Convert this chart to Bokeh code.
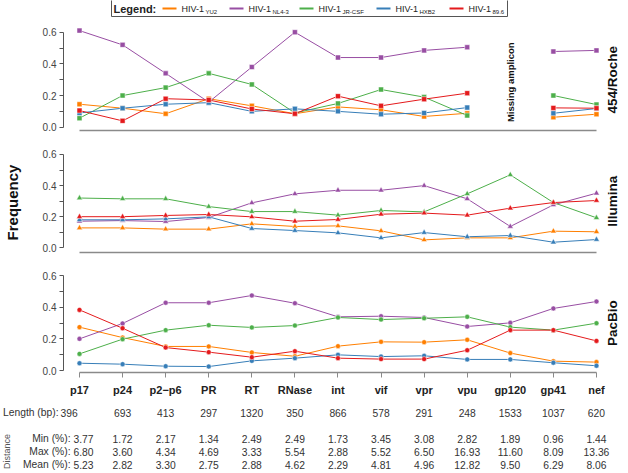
import math
from bokeh.plotting import figure
from bokeh.layouts import column, row
from bokeh.models import Range1d, FixedTicker, PrintfTickFormatter
from bokeh.embed import file_html
from bokeh.resources import INLINE
from bokeh.core.properties import value

FONT = "Liberation Sans"
nan = float("nan")

# ---- data -------------------------------------------------------------
genes = ["p17", "p24", "p2\u2212p6", "PR", "RT", "RNase", "int", "vif", "vpr",
         "vpu", "gp120", "gp41", "nef"]
lengths = ["396", "693", "413", "297", "1320", "350", "866", "578", "291",
           "248", "1533", "1037", "620"]
dist_min = ["3.77", "1.72", "2.17", "1.34", "2.49", "2.49", "1.73", "3.45",
            "3.08", "2.82", "1.89", "0.96", "1.44"]
dist_max = ["6.80", "3.60", "4.34", "4.69", "3.33", "5.54", "2.88", "5.52",
            "6.50", "16.93", "11.60", "8.09", "13.36"]
dist_mean = ["5.23", "2.82", "3.30", "2.75", "2.88", "4.62", "2.29", "4.81",
             "4.96", "12.82", "9.50", "6.29", "8.06"]

strains = ["YU2", "NL4-3", "JR-CSF", "HXB2", "89.6"]
colors = ["#FF7F00", "#984EA3", "#4DAF4A", "#377EB8", "#E41A1C"]

# 454/Roche (gp120 amplicon missing)
roche_yu2 = [0.145, 0.12, 0.085, 0.18, 0.135, 0.085, 0.128, 0.11, 0.068, 0.088, nan, 0.063, 0.082]
roche_nl43 = [0.61, 0.52, 0.34, 0.158, 0.38, 0.60, 0.44, 0.44, 0.485, 0.505, nan, 0.478, 0.485]
roche_jrcsf = [0.057, 0.20, 0.25, 0.34, 0.27, 0.09, 0.15, 0.238, 0.19, 0.074, nan, 0.20, 0.143]
roche_hxb2 = [0.09, 0.12, 0.145, 0.155, 0.10, 0.116, 0.10, 0.082, 0.09, 0.124, nan, 0.088, 0.118]
roche_896 = [0.105, 0.04, 0.18, 0.172, 0.115, 0.085, 0.196, 0.135, 0.177, 0.215, nan, 0.122, 0.12]

# Illumina
illu_yu2 = [0.128, 0.128, 0.12, 0.12, 0.154, 0.137, 0.141, 0.109, 0.051, 0.064, 0.064, 0.107, 0.103]
illu_nl43 = [0.171, 0.175, 0.169, 0.195, 0.289, 0.347, 0.37, 0.37, 0.40, 0.315, 0.137, 0.276, 0.351]
illu_jrcsf = [0.32, 0.315, 0.315, 0.265, 0.233, 0.233, 0.21, 0.24, 0.231, 0.347, 0.469, 0.291, 0.193]
illu_hxb2 = [0.18, 0.18, 0.186, 0.199, 0.124, 0.111, 0.096, 0.064, 0.098, 0.071, 0.079, 0.036, 0.053]
illu_896 = [0.20, 0.20, 0.208, 0.214, 0.199, 0.171, 0.182, 0.216, 0.223, 0.21, 0.255, 0.291, 0.304]

# PacBio
pac_yu2 = [0.274, 0.208, 0.152, 0.152, 0.114, 0.09, 0.154, 0.181, 0.179, 0.194, 0.11, 0.059, 0.053]
pac_nl43 = [0.20, 0.297, 0.428, 0.428, 0.474, 0.425, 0.339, 0.343, 0.335, 0.278, 0.301, 0.392, 0.436]
pac_jrcsf = [0.105, 0.198, 0.255, 0.286, 0.272, 0.284, 0.335, 0.322, 0.33, 0.339, 0.274, 0.255, 0.299]
pac_hxb2 = [0.046, 0.04, 0.027, 0.025, 0.061, 0.078, 0.099, 0.088, 0.093, 0.07, 0.07, 0.049, 0.03]
pac_896 = [0.383, 0.267, 0.145, 0.116, 0.084, 0.122, 0.078, 0.072, 0.072, 0.128, 0.255, 0.255, 0.187]

xs = list(range(len(genes)))

# ---- layout constants (pixels) -----------------------------------------
W = 628
FIRST_PX = 79.0     # page x of the first gene
STEP_PX = 43.08     # pixels between genes
LEFT = 63           # page x of the y axes
SIDE_W = 24         # strip holding the shared "Frequency" label
PANEL_W = W - SIDE_W


def style_common(p):
    p.xgrid.visible = False
    p.ygrid.visible = False
    p.outline_line_color = None
    p.background_fill_color = "white"
    p.border_fill_color = "white"


def bare(width, height, xr, yr):
    p = figure(width=width, height=height, output_backend="svg", toolbar_location=None,
               x_range=xr, y_range=yr, x_axis_location=None, y_axis_location=None,
               min_border_left=0, min_border_right=0, min_border_top=0, min_border_bottom=0)
    style_common(p)
    return p


def panel(series, marker, size, height, bottom, v_bottom, v_top, side_label,
          show_genes=False):
    border = LEFT - SIDE_W
    x_start = -(FIRST_PX - LEFT) / STEP_PX
    x_end = x_start + (PANEL_W - border) / STEP_PX
    p = figure(width=PANEL_W, height=height, output_backend="svg", toolbar_location=None,
               x_range=Range1d(x_start, x_end), y_range=Range1d(v_bottom, v_top),
               min_border_left=border, min_border_right=0, min_border_top=4,
               min_border_bottom=bottom)
    style_common(p)

    ya = p.yaxis[0]
    ya.ticker = FixedTicker(ticks=[0, 0.2, 0.4, 0.6], minor_ticks=[0.1, 0.3, 0.5])
    ya.formatter = PrintfTickFormatter(format="%.1f")
    ya.bounds = (0, 0.6)
    ya.axis_line_color = "#555555"
    ya.major_tick_line_color = "#555555"
    ya.minor_tick_line_color = "#555555"
    ya.major_tick_out = 4
    ya.major_tick_in = 0
    ya.minor_tick_out = 4
    ya.minor_tick_in = 0
    ya.major_label_standoff = 3
    ya.major_label_text_font = FONT
    ya.major_label_text_font_size = "10px"
    ya.major_label_text_color = "#444444"

    xa = p.xaxis[0]
    xa.bounds = (0, len(genes) - 1)
    xa.axis_line_color = "#8a8a8a"
    xa.axis_line_width = 1.5
    if show_genes:
        xa.ticker = FixedTicker(ticks=xs)
        xa.major_label_overrides = {i: g for i, g in enumerate(genes)}
        xa.major_tick_line_color = "#8a8a8a"
        xa.major_tick_out = 5
        xa.major_tick_in = 0
        xa.major_label_standoff = 6
        xa.major_label_text_font = FONT
        xa.major_label_text_font_size = "11px"
        xa.major_label_text_font_style = "bold"
        xa.major_label_text_color = "#222222"
    else:
        xa.ticker = FixedTicker(ticks=[])
        xa.major_tick_line_color = None

    for ys, c in zip(series, colors):
        p.line(xs, ys, line_color=c, line_width=1)
        p.scatter(xs, ys, marker=marker, size=size, fill_color=c,
                  line_color="white", line_width=0.5)

    p.text(x=[12.365], y=[0.30], text=[side_label], angle=math.pi / 2,
           text_align="center", text_baseline="middle",
           text_font=value(FONT), text_font_size="13.5px",
           text_font_style="bold", text_color="#111111")
    return p


# ---- legend strip -------------------------------------------------------
leg = bare(W, 20, Range1d(0, W), Range1d(20, 0))
leg.quad(left=[111], right=[507], top=[-1], bottom=[16],
         fill_color=None, line_color="#555555", line_width=1)
leg.text(x=[113], y=[8], text=["Legend:"], text_baseline="middle",
         text_font=value(FONT), text_font_size="11px", text_font_style="bold",
         text_color="#222222")
line_x0 = [162, 229, 299, 376, 449]
leg.segment(x0=line_x0, y0=[8] * 5, x1=[x + 14 for x in line_x0], y1=[8] * 5,
            line_color=colors, line_width=2)
leg.text(x=[x + 19 for x in line_x0], y=[8] * 5, text=["HIV-1"] * 5,
         text_baseline="middle", text_font=value(FONT), text_font_size="9px",
         text_color="#222222")
leg.text(x=[x + 43 for x in line_x0], y=[11] * 5, text=strains,
         text_baseline="middle", text_font=value(FONT), text_font_size="6px",
         text_color="#222222")

# ---- three platform panels ----------------------------------------------
p1 = panel([roche_yu2, roche_nl43, roche_jrcsf, roche_hxb2, roche_896],
           "square", 5, 122, 12, -0.0208, 0.6486, "454/Roche")
p1.text(x=[10], y=[0.284], text=["Missing amplicon"], angle=math.pi / 2,
        text_align="center", text_baseline="middle",
        text_font=value(FONT), text_font_size="9.5px",
        text_font_style="bold", text_color="#111111")

p2 = panel([illu_yu2, illu_nl43, illu_jrcsf, illu_hxb2, illu_896],
           "triangle", 6, 120, 10, -0.0302, 0.6514, "Illumina")

p3 = panel([pac_yu2, pac_nl43, pac_jrcsf, pac_hxb2, pac_896],
           "circle", 5, 136, 26, -0.0126, 0.657, "PacBio", show_genes=True)

# shared y-axis title, page y measured from the top of the panels (page y 20)
PANELS_H = 122 + 120 + 136
side = bare(SIDE_W, PANELS_H, Range1d(0, SIDE_W), Range1d(PANELS_H, 0))
side.text(x=[12], y=[202 - 20], text=["Frequency"], angle=math.pi / 2,
          text_align="center", text_baseline="middle", text_font=value(FONT),
          text_font_size="15px", text_font_style="bold", text_color="#111111")

# ---- amplicon table -------------------------------------------------------
t_start = -FIRST_PX / STEP_PX
tab = bare(W, 75, Range1d(t_start, t_start + W / STEP_PX), Range1d(75, 0))

row_y = {"len": 14, "min": 40, "max": 53, "mean": 66}
tcol = "#333333"
TFS = "10.3px"
# first column sits against its row label
len_x = [xs[0] - 10.4 / STEP_PX] + xs[1:]
stat_x = [xs[0] + 4.0 / STEP_PX] + xs[1:]
for key, vals, xpos in [("len", lengths, len_x), ("min", dist_min, stat_x),
                        ("max", dist_max, stat_x), ("mean", dist_mean, stat_x)]:
    tab.text(x=xpos, y=[row_y[key]] * len(xs), text=vals, text_align="center",
             text_baseline="middle", text_font=value(FONT), text_font_size=TFS,
             text_color=tcol)

tab.text(x=[(58 - FIRST_PX) / STEP_PX], y=[row_y["len"]], text=["Length (bp):"],
         text_align="right", text_baseline="middle", text_font=value(FONT),
         text_font_size=TFS, text_color=tcol)
tab.text(x=[(70 - FIRST_PX) / STEP_PX] * 3, y=[row_y["min"], row_y["max"], row_y["mean"]],
         text=["Min (%):", "Max (%):", "Mean (%):"], text_align="right",
         text_baseline="middle", text_font=value(FONT), text_font_size=TFS,
         text_color=tcol)
tab.text(x=[(6 - FIRST_PX) / STEP_PX], y=[row_y["max"]], text=["Distance"],
         angle=math.pi / 2, text_align="center", text_baseline="middle",
         text_font=value(FONT), text_font_size="9px", text_color="#555555")

layout = column(leg, row(side, column(p1, p2, p3, spacing=0), spacing=0), tab, spacing=0)
open("out.html", "w").write(file_html(layout, INLINE))
